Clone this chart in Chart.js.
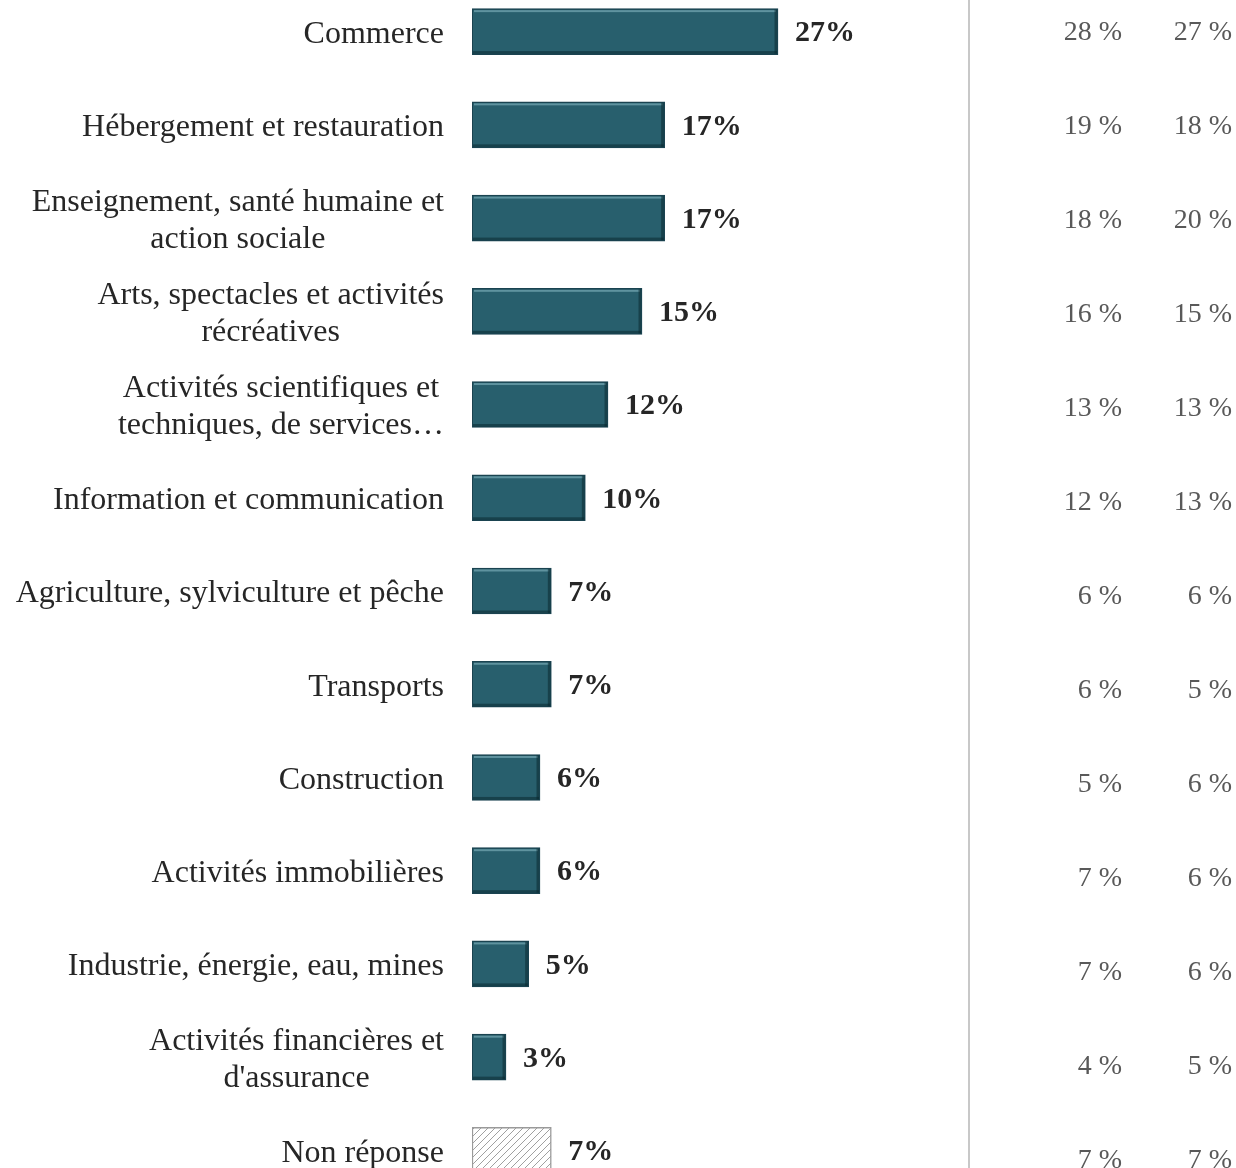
<!DOCTYPE html>
<html>
<head>
<meta charset="utf-8">
<script src="https://cdn.jsdelivr.net/npm/chart.js@4.4.1/dist/chart.umd.min.js"></script>
<style>
  html, body { margin: 0; padding: 0; background: #fff; overflow: hidden; }
  #wrap { width: 1236px; height: 1212px; margin-top: -15px; position: relative; }
</style>
</head>
<body>
<div id="wrap"><canvas id="ChartBars"></canvas></div>
<script>
var categories = [
    'Commerce',
    'Hébergement et restauration',
    ['Enseignement, santé humaine et', 'action sociale'],
    ['Arts, spectacles et activités', 'récréatives'],
    ['Activités scientifiques et', 'techniques, de services…'],
    'Information et communication',
    'Agriculture, sylviculture et pêche',
    'Transports',
    'Construction',
    'Activités immobilières',
    'Industrie, énergie, eau, mines',
    ['Activités financières et', "d'assurance"],
    'Non réponse'
];
var values = [27, 17, 17, 15, 12, 10, 7, 7, 6, 6, 5, 3, 7];
var column1 = [28, 19, 18, 16, 13, 12, 6, 6, 5, 7, 7, 4, 7];
var column2 = [27, 18, 20, 15, 13, 13, 6, 5, 6, 6, 6, 5, 7];

var labelFont = '32px "Liberation Serif", serif';
var valueFont = 'bold 30px "Liberation Serif", serif';
var columnFont = '28px "Liberation Serif", serif';

function makeHatch() {
    var c = document.createElement('canvas');
    c.width = 7; c.height = 7;
    var g = c.getContext('2d');
    g.fillStyle = '#ffffff';
    g.fillRect(0, 0, 7, 7);
    g.strokeStyle = '#a0a0a0';
    g.lineWidth = 1;
    g.beginPath();
    g.moveTo(-1, 8); g.lineTo(8, -1);
    g.moveTo(-1, 1); g.lineTo(1, -1);
    g.moveTo(6, 8); g.lineTo(8, 6);
    g.stroke();
    return g.createPattern(c, 'repeat');
}

var hatch = makeHatch();
var fills = [];
var borders = [];
for (var i = 0; i < values.length; i++) {
    var isNR = i === values.length - 1;
    fills.push(isNR ? hatch : '#285f6d');
    borders.push(isNR ? '#9a9a9a' : '#1a4350');
}

var decorPlugin = {
    id: 'decor',
    afterDatasetsDraw: function (chart) {
        var ctx = chart.ctx;
        var meta = chart.getDatasetMeta(0);
        var yScale = chart.scales.y;
        ctx.save();
        // bevel highlights
        meta.data.forEach(function (bar, i) {
            if (i === values.length - 1) return;
            var left = bar.base, right = bar.x;
            var top = bar.y - bar.height / 2, bottom = bar.y + bar.height / 2;
            ctx.fillStyle = 'rgba(140,190,200,0.55)';
            ctx.fillRect(left + 2, top + 1.5, right - left - 4, 2);
            ctx.fillStyle = 'rgba(10,40,48,0.55)';
            ctx.fillRect(left + 1, bottom - 3.5, right - left - 2, 2.5);
            ctx.fillRect(right - 3.5, top + 1, 2.5, bottom - top - 2);
        });
        // value labels
        ctx.font = valueFont;
        ctx.fillStyle = '#262626';
        ctx.textAlign = 'left';
        ctx.textBaseline = 'middle';
        meta.data.forEach(function (bar, i) {
            ctx.fillText(values[i] + '%', bar.x + 17, bar.y + 2);
        });
        // category labels
        ctx.font = labelFont;
        ctx.fillStyle = '#262626';
        categories.forEach(function (lab, i) {
            var y = yScale.getPixelForValue(i) + 3;
            var lines = Array.isArray(lab) ? lab : [lab];
            var lh = 37;
            var y0 = y - (lines.length - 1) * lh / 2;
            if (lines.length === 1) {
                ctx.textAlign = 'right';
                ctx.fillText(lines[0], 444, y0);
            } else {
                var w = 0;
                lines.forEach(function (l) { w = Math.max(w, ctx.measureText(l).width); });
                ctx.textAlign = 'center';
                lines.forEach(function (l, k) {
                    ctx.fillText(l, 444 - w / 2, y0 + k * lh);
                });
            }
        });
        // separator line
        ctx.strokeStyle = '#c8c8c8';
        ctx.lineWidth = 2;
        ctx.beginPath();
        ctx.moveTo(969, 0);
        ctx.lineTo(969, chart.height);
        ctx.stroke();
        // right-hand columns
        ctx.font = columnFont;
        ctx.fillStyle = '#595959';
        ctx.textAlign = 'right';
        categories.forEach(function (lab, i) {
            var y = yScale.getPixelForValue(i) + 1 + i * 0.75;
            ctx.fillText(column1[i] + ' %', 1122, y);
            ctx.fillText(column2[i] + ' %', 1232, y);
        });
        ctx.restore();
    }
};

var ctx = document.getElementById('ChartBars').getContext('2d');
var chart = new Chart(ctx, {
    type: 'bar',
    data: {
        labels: categories,
        datasets: [{
            data: values,
            backgroundColor: fills,
            borderColor: borders,
            borderWidth: 1.5,
            borderSkipped: false,
            barThickness: 46
        }]
    },
    options: {
        indexAxis: 'y',
        responsive: true,
        maintainAspectRatio: false,
        animation: false,
        layout: { padding: { left: 472, right: 84, top: 0, bottom: 0 } },
        plugins: {
            legend: { display: false },
            tooltip: { enabled: false }
        },
        scales: {
            x: { display: false, min: 0, max: 60 },
            y: { display: false }
        }
    },
    plugins: [decorPlugin]
});
</script>
</body>
</html>
